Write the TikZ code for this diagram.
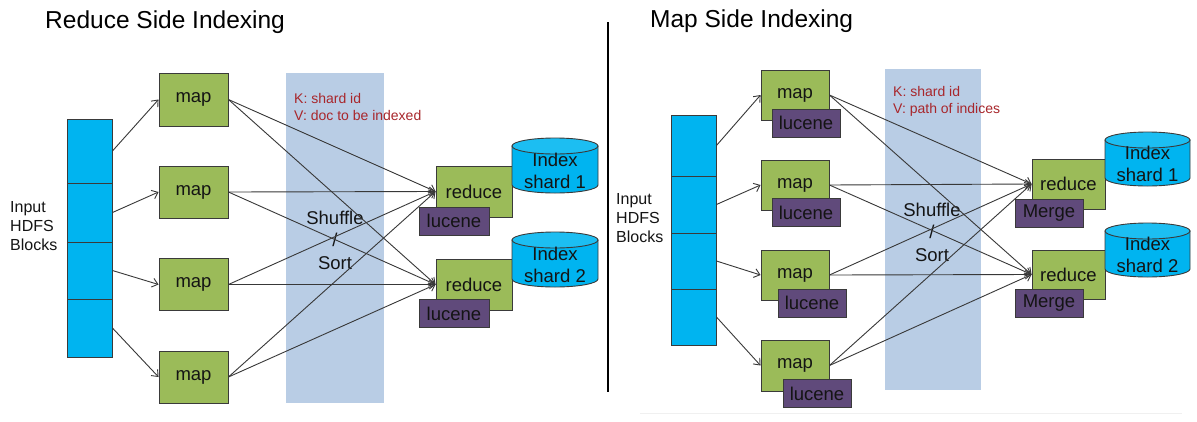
\documentclass[tikz,border=0pt]{standalone}
\usepackage{fontspec}
\setmainfont{Liberation Sans}
\usetikzlibrary{arrows.meta}
\definecolor{grn}{HTML}{9BBB59}
\definecolor{purp}{HTML}{604A7B}
\definecolor{cyanb}{HTML}{00B4F0}
\definecolor{cyantop}{HTML}{1CBEF2}
\definecolor{bandc}{HTML}{B9CDE5}
\definecolor{kred}{HTML}{A8262B}
\definecolor{bord}{HTML}{3A3A3A}
\definecolor{txt}{HTML}{141414}
\newcommand{\mycyl}[4]{%
  \filldraw[fill=cyanb, draw=bord, line width=0.9pt] ({#1-#2},{#3+8}) -- ({#1-#2},{#4-8}) arc[start angle=180, end angle=360, x radius=#2pt, y radius=8pt] -- ({#1+#2},{#3+8}) -- cycle;
  \filldraw[fill=cyantop, draw=bord, line width=0.9pt] (#1,{#3+8}) ellipse [x radius=#2pt, y radius=8pt];
}
\tikzset{
  blk/.style={draw=bord, line width=0.9pt, fill=cyanb, minimum width=45pt, inner sep=0pt},
  mapbox/.style={draw=bord, line width=0.9pt, fill=grn, inner sep=0pt, text=txt, font=\fontsize{18.5}{22}\selectfont},
  lucbox/.style={draw=bord, line width=0.9pt, fill=purp, inner sep=0pt, text=txt, minimum height=28pt, font=\fontsize{18.5}{22}\selectfont},
  cyltext/.style={align=center, text=txt, inner sep=0pt, font=\fontsize{18.5}{22}\selectfont},
  inptext/.style={align=left, anchor=west, text=txt, inner sep=0pt, font=\fontsize{16}{19}\selectfont},
  kvtext/.style={align=left, anchor=west, text=kred, inner sep=0pt, font=\fontsize{14}{17}\selectfont},
  shuftext/.style={align=center, text=txt, inner sep=0pt, font=\fontsize{18.5}{22.5}\selectfont},
  titletext/.style={anchor=base west, inner sep=0pt, text=black, font=\fontsize{24.5}{28}\selectfont},
  arr/.style={draw=black!78, line width=0.9pt, -{Straight Barb[length=5.5pt,width=9pt]}},
  conn/.style={draw=black!78, line width=0.9pt, -{Straight Barb[length=5.5pt,width=9pt]}}
}
\begin{document}
\begin{tikzpicture}[x=1pt, y=-1pt]
\useasboundingbox (0,0) rectangle (1197,421);
\fill[white] (0,0) rectangle (1197,421);

% ---------- titles and divider
\node[titletext] (t1) at (45,28.5) {Reduce Side Indexing};
\node[titletext] (t2) at (650,27.5) {Map Side Indexing};
\coordinate (dtop) at (608,22);
\coordinate (dbot) at (608,392);
\draw[black, line width=2.5pt] (dtop) -- (dbot);
\draw[black!6, line width=1pt] (640,413) -- (1182,413);

% ---------- shuffle bands
\fill[bandc] (286,73) rectangle (384,403);
\fill[bandc] (885,69) rectangle (981,390);
\node[kvtext] (kv1) at (294,106.5) {K: shard id\\V: doc to be indexed};
\node[kvtext] (kv2) at (893,101.5) {K: shard id\\V: path of indices};
\node[shuftext] (sh1) at (335,240) {Shuffle\\/\\Sort};
\node[shuftext] (sh2) at (932,232) {Shuffle\\/\\Sort};

% ================= LEFT: Reduce Side Indexing
\node[blk, minimum height=64pt] (lb1) at (89.5,151) {};
\node[blk, minimum height=59pt] (lb2) at (89.5,212.5) {};
\node[blk, minimum height=57pt] (lb3) at (89.5,270.5) {};
\node[blk, minimum height=58pt] (lb4) at (89.5,328) {};
\node[inptext] (lin) at (10,226) {Input\\HDFS\\Blocks};

\node[mapbox, minimum width=69pt, minimum height=53pt] (lm1) at (193.5,99.5) {map};
\node[mapbox, minimum width=69pt, minimum height=52pt] (lm2) at (193.5,192) {map};
\node[mapbox, minimum width=69pt, minimum height=52pt] (lm3) at (193.5,284.5) {map};
\node[mapbox, minimum width=69pt, minimum height=52pt] (lm4) at (193.5,377) {map};

\node[mapbox, minimum width=76pt, minimum height=51pt] (lr1) at (474,191.5) {reduce};
\node[mapbox, minimum width=76pt, minimum height=51pt] (lr2) at (474,284.5) {reduce};
\node[lucbox, minimum width=70pt] (ll1) at (454,221) {lucene};
\node[lucbox, minimum width=70pt] (ll2) at (454,313.5) {lucene};

\mycyl{555}{43}{138}{193}
\mycyl{555}{43}{232}{287}
\node[cyltext] (lc1) at (555,171) {Index\\shard 1};
\node[cyltext] (lc2) at (555,265) {Index\\shard 2};

\draw[arr] (lb1.east) -- (lm1.west);
\draw[arr] (lb2.east) -- (lm2.west);
\draw[arr] (lb3.east) -- (lm3.west);
\draw[arr] (lb4.east) -- (lm4.west);
\foreach \m in {lm1,lm2,lm3,lm4}{
  \draw[conn] (\m.east) -- (lr1.west);
  \draw[conn] (\m.east) -- (lr2.west);
}

% ================= RIGHT: Map Side Indexing
\node[blk, minimum height=61pt] (rb1) at (693.5,145.5) {};
\node[blk, minimum height=57pt] (rb2) at (693.5,204.5) {};
\node[blk, minimum height=56pt] (rb3) at (693.5,261) {};
\node[blk, minimum height=56pt] (rb4) at (693.5,317) {};
\node[inptext] (rin) at (616,218) {Input\\HDFS\\Blocks};

\node[mapbox, minimum width=68pt, minimum height=50pt] (rm1) at (795,95) {map};
\node[mapbox, minimum width=68pt, minimum height=50pt] (rm2) at (795,185) {map};
\node[mapbox, minimum width=68pt, minimum height=50pt] (rm3) at (795,275) {map};
\node[mapbox, minimum width=68pt, minimum height=51pt] (rm4) at (795,365.5) {map};
\node[lucbox, minimum width=68pt] (rl1) at (806,123) {lucene};
\node[lucbox, minimum width=68pt] (rl2) at (806,212.5) {lucene};
\node[lucbox, minimum width=68pt] (rl3) at (812,303) {lucene};
\node[lucbox, minimum width=68pt] (rl4) at (817,393.5) {lucene};

\node[mapbox, minimum width=73pt, minimum height=50pt] (rr1) at (1068.5,184) {reduce};
\node[mapbox, minimum width=73pt, minimum height=49pt] (rr2) at (1068.5,274.5) {reduce};
\node[lucbox, minimum width=68pt] (rg1) at (1049,213) {Merge};
\node[lucbox, minimum width=68pt] (rg2) at (1049,303) {Merge};

\mycyl{1147.5}{42.5}{132}{186}
\mycyl{1147.5}{42.5}{223}{277}
\node[cyltext] (rc1) at (1147.5,164) {Index\\shard 1};
\node[cyltext] (rc2) at (1147.5,255) {Index\\shard 2};

\draw[arr] (rb1.east) -- (rm1.west);
\draw[arr] (rb2.east) -- (rm2.west);
\draw[arr] (rb3.east) -- (rm3.west);
\draw[arr] (rb4.east) -- (rm4.west);
\foreach \m in {rm1,rm2,rm3,rm4}{
  \draw[conn] (\m.east) -- (rr1.west);
  \draw[conn] (\m.east) -- (rr2.west);
}
\end{tikzpicture}
\end{document}
